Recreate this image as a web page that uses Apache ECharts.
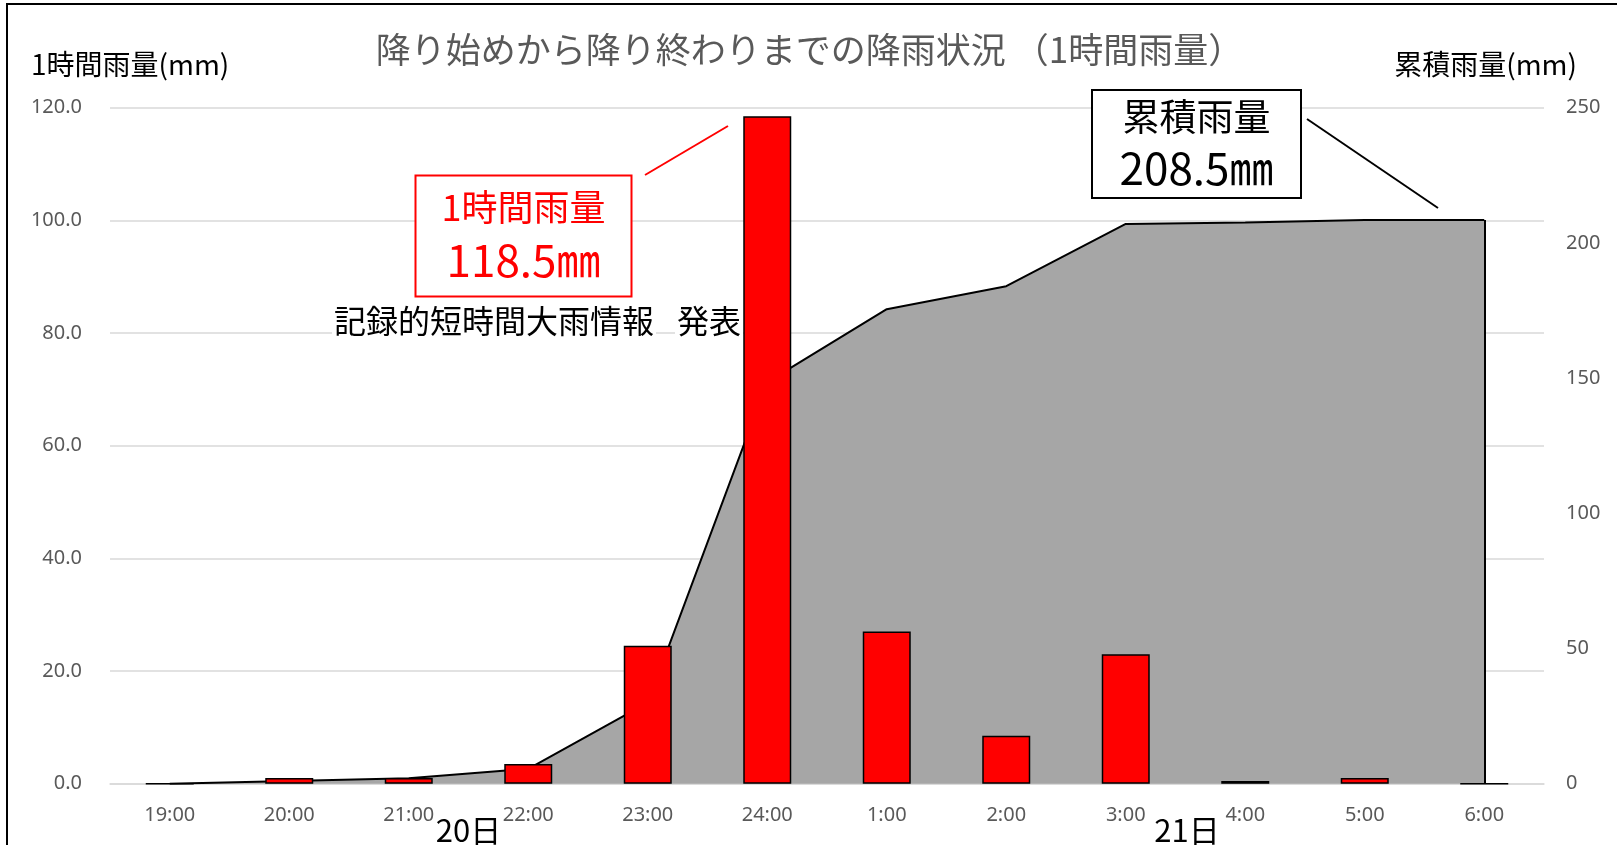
<!DOCTYPE html>
<html>
<head>
<meta charset="utf-8">
<script src="https://cdn.jsdelivr.net/npm/echarts@6/dist/echarts.min.js"></script>
<style>
html,body{margin:0;padding:0;background:#fff;}
#chart{width:1617px;height:845px;}
</style>
</head>
<body>
<div id="chart"></div>
<script>
const categories = ['19:00','20:00','21:00','22:00','23:00','24:00','1:00','2:00','3:00','4:00','5:00','6:00'];
const hourlyRain = [0, 1.0, 1.0, 3.5, 24.5, 118.5, 27.0, 8.5, 23.0, 0.5, 1.0, 0];
const cumulativeRain = [0, 1.0, 2.0, 5.5, 30.0, 148.5, 175.5, 184.0, 207.0, 207.5, 208.5, 208.5];
const leftTicks = {min: 0, max: 120, interval: 20};
const rightTicks = {min: 0, max: 250, interval: 50};

const CJK = '"Noto Sans CJK JP", "Noto Sans", sans-serif';
const LAT = '"Noto Sans", "Liberation Sans", sans-serif';
const lastIdx = categories.length - 1;

const chart = echarts.init(document.getElementById('chart'), null, {renderer: 'canvas'});
chart.setOption({
  animation: false,
  backgroundColor: '#ffffff',
  grid: {left: 110, right: 73, top: 107.7, bottom: 61.3},
  xAxis: {
    type: 'category',
    data: categories,
    boundaryGap: true,
    axisLine: {show: true, lineStyle: {color: '#d9d9d9', width: 1.5}},
    axisTick: {show: false},
    axisLabel: {color: '#595959', fontSize: 20, fontFamily: LAT, margin: 22, interval: 0}
  },
  yAxis: [
    {
      type: 'value', min: leftTicks.min, max: leftTicks.max, interval: leftTicks.interval,
      axisLine: {show: false}, axisTick: {show: false},
      splitLine: {show: true, lineStyle: {color: '#d9d9d9', width: 1.5}},
      axisLabel: {color: '#595959', fontSize: 20, fontFamily: LAT, margin: 28,
        formatter: v => v.toFixed(1)}
    },
    {
      type: 'value', min: rightTicks.min, max: rightTicks.max, interval: rightTicks.interval,
      axisLine: {show: false}, axisTick: {show: false},
      splitLine: {show: false},
      axisLabel: {color: '#595959', fontSize: 20, fontFamily: LAT, margin: 22}
    }
  ],
  series: [
    {
      name: '累積雨量',
      type: 'line',
      yAxisIndex: 1,
      data: cumulativeRain,
      symbol: 'none',
      z: 1,
      lineStyle: {color: '#000000', width: 2},
      areaStyle: {color: '#a6a6a6', opacity: 1},
      markLine: {
        silent: true,
        symbol: ['none', 'none'],
        label: {show: false},
        lineStyle: {color: '#000000', width: 2, type: 'solid'},
        data: [[
          {coord: [categories[lastIdx], 0]},
          {coord: [categories[lastIdx], cumulativeRain[lastIdx]]}
        ]]
      }
    },
    {
      name: '1時間雨量',
      type: 'bar',
      yAxisIndex: 0,
      data: hourlyRain,
      barWidth: 48,
      z: 3,
      itemStyle: {color: '#ff0000', borderColor: '#000000', borderWidth: 1.5}
    }
  ],
  graphic: [
    {type: 'rect', shape: {x: 7, y: 4, width: 1660, height: 900},
      style: {fill: 'none', stroke: '#000', lineWidth: 2}, z: 100},
    {type: 'text', x: 809.5, y: 49.5, z: 50,
      style: {text: '降り始めから降り終わりまでの降雨状況 （1時間雨量）', fill: '#595959',
        font: '35px ' + CJK, textAlign: 'center', textVerticalAlign: 'middle'}},
    {type: 'text', x: 31, y: 64, z: 50,
      style: {text: '1時間雨量(mm)', fill: '#000', font: '28px ' + CJK,
        textAlign: 'left', textVerticalAlign: 'middle'}},
    {type: 'text', x: 1577, y: 64, z: 50,
      style: {text: '累積雨量(mm)', fill: '#000', font: '28px ' + CJK,
        textAlign: 'right', textVerticalAlign: 'middle'}},
    // red annotation
    {type: 'line', shape: {x1: 645, y1: 175, x2: 728, y2: 126}, z: 50,
      style: {stroke: '#ff0000', lineWidth: 2}},
    {type: 'rect', shape: {x: 415.5, y: 175.5, width: 216, height: 121}, z: 50,
      style: {fill: '#ffffff', stroke: '#ff0000', lineWidth: 2}},
    {type: 'text', x: 523.5, y: 207, z: 51,
      style: {text: '1時間雨量', fill: '#ff0000', font: '36px ' + CJK,
        textAlign: 'center', textVerticalAlign: 'middle'}},
    {type: 'text', x: 523.5, y: 260, z: 51,
      style: {text: '118.5㎜', fill: '#ff0000', font: '44px ' + CJK,
        textAlign: 'center', textVerticalAlign: 'middle'}},
    {type: 'text', x: 332, y: 321, z: 51,
      style: {text: '記録的短時間大雨情報', fill: '#000', font: '32px ' + CJK,
        textAlign: 'left', textVerticalAlign: 'middle',
        backgroundColor: '#ffffff', padding: [0, 2, 0, 2]}},
    {type: 'text', x: 675, y: 321, z: 51,
      style: {text: '発表', fill: '#000', font: '32px ' + CJK,
        textAlign: 'left', textVerticalAlign: 'middle',
        backgroundColor: '#ffffff', padding: [0, 2, 0, 2]}},
    // black annotation
    {type: 'line', shape: {x1: 1307, y1: 119, x2: 1438, y2: 208}, z: 50,
      style: {stroke: '#000000', lineWidth: 2}},
    {type: 'rect', shape: {x: 1092, y: 90, width: 209, height: 108}, z: 50,
      style: {fill: '#ffffff', stroke: '#000000', lineWidth: 2}},
    {type: 'text', x: 1196.5, y: 117, z: 51,
      style: {text: '累積雨量', fill: '#000', font: '37px ' + CJK,
        textAlign: 'center', textVerticalAlign: 'middle'}},
    {type: 'text', x: 1196.5, y: 168, z: 51,
      style: {text: '208.5㎜', fill: '#000', font: '44px ' + CJK,
        textAlign: 'center', textVerticalAlign: 'middle'}},
    // day labels
    {type: 'text', x: 468.5, y: 830, z: 51,
      style: {text: '20日', fill: '#000', font: '31px ' + CJK,
        textAlign: 'center', textVerticalAlign: 'middle'}},
    {type: 'text', x: 1187, y: 830, z: 51,
      style: {text: '21日', fill: '#000', font: '31px ' + CJK,
        textAlign: 'center', textVerticalAlign: 'middle'}}
  ]
});
</script>
</body>
</html>
